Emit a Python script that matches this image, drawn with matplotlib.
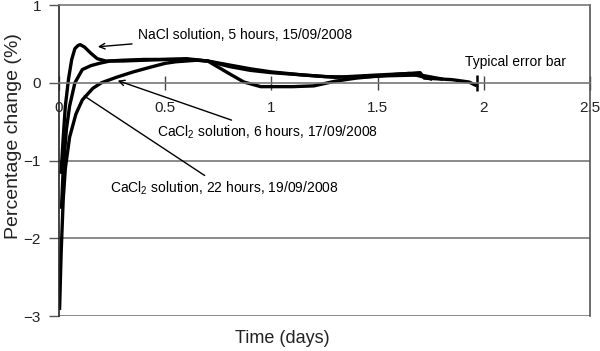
import matplotlib
matplotlib.use("Agg")
import matplotlib.pyplot as plt

plt.rcParams['font.family'] = ['Liberation Sans', 'DejaVu Sans']
plt.rcParams['mathtext.fontset'] = 'custom'
plt.rcParams['mathtext.rm'] = 'Liberation Sans'

# NaCl solution, 5 hours
nacl_t = [0.01, 0.02, 0.03, 0.045, 0.06, 0.075, 0.09, 0.1, 0.12, 0.15, 0.18, 0.22,
          0.3, 0.4, 0.5, 0.6, 0.7, 0.8, 0.9, 1.0, 1.1, 1.25, 1.4, 1.55, 1.7, 1.8]
nacl_v = [-1.15, -0.7, -0.3, 0.05, 0.3, 0.44, 0.48, 0.49, 0.46, 0.38, 0.31, 0.28,
          0.28, 0.29, 0.3, 0.3, 0.28, 0.21, 0.16, 0.13, 0.11, 0.08, 0.07, 0.09, 0.1, 0.05]

# CaCl2 solution, 6 hours
ca6_t = [0.012, 0.02, 0.035, 0.05, 0.075, 0.11, 0.15, 0.19, 0.24, 0.3, 0.4, 0.5, 0.6,
         0.7, 0.8, 0.87, 0.95, 1.1, 1.2, 1.3, 1.4, 1.55, 1.7, 1.72, 1.85, 1.93, 1.96]
ca6_v = [-1.6, -1.1, -0.6, -0.3, 0.0, 0.17, 0.22, 0.25, 0.28, 0.29, 0.3, 0.3, 0.31,
         0.28, 0.12, 0.01, -0.05, -0.05, -0.04, 0.02, 0.06, 0.1, 0.13, 0.06, 0.04, 0.01, -0.03]

# CaCl2 solution, 22 hours
ca22_t = [0.003, 0.01, 0.02, 0.03, 0.05, 0.08, 0.11, 0.16, 0.2, 0.27, 0.35, 0.43, 0.5,
          0.55, 0.65, 0.7, 0.8, 0.9, 1.0, 1.15, 1.3, 1.5, 1.65, 1.75]
ca22_v = [-2.9, -2.2, -1.5, -1.1, -0.7, -0.4, -0.22, -0.07, 0.0, 0.07, 0.14, 0.2, 0.25,
          0.27, 0.29, 0.28, 0.23, 0.18, 0.14, 0.1, 0.07, 0.1, 0.12, 0.05]

x_ticks = [0, 0.5, 1, 1.5, 2, 2.5]
x_ticklabels = ['0', '0.5', '1', '1.5', '2', '2.5']
y_ticks = [-3, -2, -1, 0, 1]

err_t = 1.97
err_size = 0.1

fig = plt.figure(figsize=(6, 3.51), dpi=100)
ax = fig.add_axes([0.0983, 0.0997, 0.885, 0.886])

ax.plot(nacl_t, nacl_v, color='black', lw=2.4)
ax.plot(ca6_t, ca6_v, color='black', lw=2.4)
ax.plot(ca22_t, ca22_v, color='black', lw=2.4)
ax.errorbar([err_t], [0], yerr=[err_size], fmt='none', ecolor='black', elinewidth=1.8, capsize=0)

ax.set_xlim(0, 2.5)
ax.set_ylim(-3, 1)
for y in [-1, -2, -3]:
    ax.axhline(y, color='#777777', lw=1.2, zorder=0)

ax.spines['bottom'].set_position(('data', 0))
ax.spines['bottom'].set_color('#777777')
ax.spines['top'].set_color('#777777')
ax.spines['right'].set_color('#555555')
ax.spines['left'].set_color('#222222')
for s in ax.spines.values():
    s.set_linewidth(1.2)

ax.set_xticks(x_ticks)
ax.set_xticklabels(x_ticklabels)
ax.set_yticks(y_ticks)
ax.tick_params(axis='x', direction='inout', length=10, width=1, color='#444444',
               pad=8, labelsize=11, labelcolor='#222222')
ax.tick_params(axis='y', direction='out', length=7, width=1, color='#555555',
               pad=6, labelsize=11, labelcolor='#222222')

ax.set_xlabel('Time (days)', fontsize=13, color='#222222')
ax.xaxis.set_label_coords(0.42, -0.045)
ax.set_ylabel('Percentage change (%)', fontsize=14, color='#222222')
ax.yaxis.set_label_coords(-0.07, 0.58)

arrow = dict(arrowstyle='->', color='black', lw=1)
ax.annotate('NaCl solution, 5 hours, 15/09/2008', xy=(0.17, 0.46), xytext=(0.37, 0.62),
            fontsize=10, va='center', ha='left', arrowprops=arrow)
ax.annotate('CaCl$_2$ solution, 6 hours, 17/09/2008', xy=(0.264, 0.04), xytext=(0.46, -0.64),
            fontsize=10, va='center', ha='left', arrowprops=arrow)
ax.annotate('CaCl$_2$ solution, 22 hours, 19/09/2008', xy=(0.108, -0.15), xytext=(0.24, -1.36),
            fontsize=10, va='center', ha='left', arrowprops=dict(arrowstyle='-', color='black', lw=1))
ax.text(1.91, 0.27, 'Typical error bar', fontsize=10, va='center', ha='left')

fig.savefig('out.png', dpi=100)
